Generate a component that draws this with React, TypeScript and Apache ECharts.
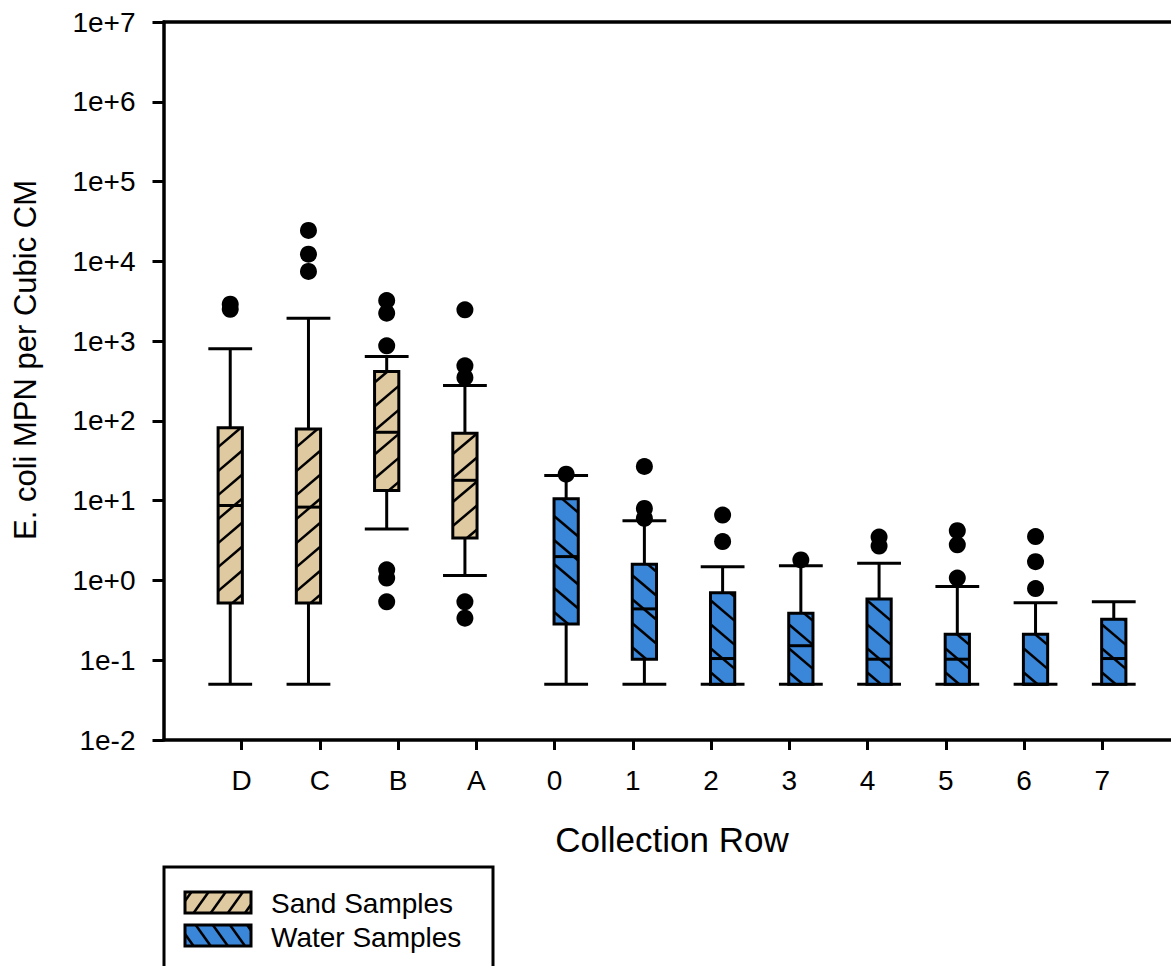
import React, { useEffect, useRef } from 'react';
import * as echarts from 'echarts';

// ---------- data ----------
const CATEGORIES = ['D', 'C', 'B', 'A', '0', '1', '2', '3', '4', '5', '6', '7'];

const SAND_ROWS = ['D', 'C', 'B', 'A'];
const SAND_MIN = [0.05, 0.05, 4.4, 1.15];
const SAND_Q1 = [0.52, 0.52, 13.4, 3.4];
const SAND_MEDIAN = [8.7, 8.3, 72, 18];
const SAND_Q3 = [82, 79, 416, 70];
const SAND_MAX = [800, 1940, 640, 277];
const SAND_OUTLIERS: [string, number][] = [
  ['D', 2500], ['D', 2900],
  ['C', 24400], ['C', 12300], ['C', 7460],
  ['B', 3230], ['B', 2240], ['B', 873], ['B', 1.36], ['B', 1.07], ['B', 0.54],
  ['A', 2470], ['A', 490], ['A', 350], ['A', 0.54], ['A', 0.336],
];

const WATER_ROWS = ['0', '1', '2', '3', '4', '5', '6', '7'];
const WATER_MIN = [0.05, 0.05, 0.05, 0.05, 0.05, 0.05, 0.05, 0.05];
const WATER_Q1 = [0.285, 0.103, 0.05, 0.05, 0.05, 0.05, 0.05, 0.05];
const WATER_MEDIAN = [1.99, 0.44, 0.105, 0.152, 0.103, 0.103, 0.05, 0.105];
const WATER_Q3 = [10.6, 1.6, 0.7, 0.388, 0.586, 0.212, 0.212, 0.326];
const WATER_MAX = [20.7, 5.6, 1.48, 1.53, 1.64, 0.84, 0.527, 0.54];
const WATER_OUTLIERS: [string, number][] = [
  ['0', 21.5],
  ['1', 26.8], ['1', 8.0], ['1', 6.0],
  ['2', 6.6], ['2', 3.07],
  ['3', 1.81],
  ['4', 3.5], ['4', 2.7],
  ['5', 4.2], ['5', 2.8], ['5', 1.07],
  ['6', 3.55], ['6', 1.72], ['6', 0.79],
];

const Y_MIN = 0.01;
const Y_MAX = 1e7;
const X_MAX = 13;

// ---------- style ----------
const FONT = "'Liberation Sans', Arial, Helvetica, sans-serif";
const SAND_COLOR = '#dfc9a0';
const WATER_COLOR = '#3a86d8';
const GROUP_OFFSET = 0.147; // fraction of category band
const BOX_W = 0.31;
const CAP_W = 0.56;
const HATCH_SLOPE = 0.85;
const HATCH_SPACING = 24;
const LW = 3;
const CANVAS_W = 1200; // wider than the 1171px window: the plot's right end is cropped, as in the source

const catIndex = (c: string) => CATEGORIES.indexOf(c) + 1;

function hatchSegments(x0: number, y0: number, w: number, h: number, slope: number, spacing: number, dir: number) {
  const x1 = x0 + w;
  const y1 = y0 + h;
  const segs: number[][] = [];
  const kAt = (x: number, y: number) => y + dir * slope * x;
  const ks = [kAt(x0, y0), kAt(x1, y0), kAt(x0, y1), kAt(x1, y1)];
  const kmin = Math.min(...ks);
  const kmax = Math.max(...ks);
  const base = kAt(x0, y1) - spacing * 0.5;
  const jStart = Math.floor((kmin - base) / spacing);
  const jEnd = Math.ceil((kmax - base) / spacing);
  for (let j = jStart; j <= jEnd; j++) {
    const k = base + j * spacing;
    const xa0 = (k - y0) / (dir * slope);
    const xa1 = (k - y1) / (dir * slope);
    const xa = Math.max(x0, Math.min(xa0, xa1));
    const xb = Math.min(x1, Math.max(xa0, xa1));
    if (xb - xa < 0.8) continue;
    segs.push([xa, k - dir * slope * xa, xb, k - dir * slope * xb]);
  }
  return segs;
}

function makeBoxRenderer(offsetSign: number, fill: string, dir: number) {
  return (params: any, api: any) => {
    const xi = api.value(0);
    const low = api.value(1);
    const q1 = api.value(2);
    const med = api.value(3);
    const q3 = api.value(4);
    const high = api.value(5);
    const p0 = api.coord([xi, 1]);
    const band = api.coord([xi + 1, 1])[0] - p0[0];
    const cx = p0[0] + offsetSign * GROUP_OFFSET * band;
    const y = (v: number) => api.coord([xi, v])[1];
    const bw = BOX_W * band;
    const cw = CAP_W * band;
    const yLow = y(low), yQ1 = y(q1), yMed = y(med), yQ3 = y(q3), yHigh = y(high);
    const line = { stroke: '#000', lineWidth: LW };
    const children: any[] = [
      { type: 'line', shape: { x1: cx, y1: yQ3, x2: cx, y2: yHigh }, style: line },
      { type: 'line', shape: { x1: cx, y1: yQ1, x2: cx, y2: yLow }, style: line },
      { type: 'line', shape: { x1: cx - cw / 2, y1: yHigh, x2: cx + cw / 2, y2: yHigh }, style: line },
      { type: 'line', shape: { x1: cx - cw / 2, y1: yLow, x2: cx + cw / 2, y2: yLow }, style: line },
      { type: 'rect', shape: { x: cx - bw / 2, y: yQ3, width: bw, height: yQ1 - yQ3 }, style: { fill, stroke: 'none' } },
    ];
    hatchSegments(cx - bw / 2, yQ3, bw, yQ1 - yQ3, HATCH_SLOPE, HATCH_SPACING, dir).forEach((s) => {
      children.push({ type: 'line', shape: { x1: s[0], y1: s[1], x2: s[2], y2: s[3] }, style: { stroke: '#000', lineWidth: 2.5 } });
    });
    children.push({ type: 'line', shape: { x1: cx - bw / 2, y1: yMed, x2: cx + bw / 2, y2: yMed }, style: line });
    children.push({ type: 'rect', shape: { x: cx - bw / 2, y: yQ3, width: bw, height: yQ1 - yQ3 }, style: { fill: 'none', stroke: '#000', lineWidth: LW } });
    return { type: 'group', children };
  };
}

function makeOutlierRenderer(offsetSign: number) {
  return (params: any, api: any) => {
    const xi = api.value(0);
    const v = api.value(1);
    const p = api.coord([xi, v]);
    const band = api.coord([xi + 1, v])[0] - p[0];
    return {
      type: 'circle',
      shape: { cx: p[0] + offsetSign * GROUP_OFFSET * band, cy: p[1], r: 8.5 },
      style: { fill: '#000' },
    };
  };
}

function legendSwatch(x: number, y: number, w: number, h: number, fill: string, dir: number) {
  const els: any[] = [
    { type: 'rect', shape: { x, y, width: w, height: h }, style: { fill, stroke: 'none' } },
  ];
  hatchSegments(x, y, w, h, 1.4, 24, dir).forEach((s) => {
    els.push({ type: 'line', shape: { x1: s[0], y1: s[1], x2: s[2], y2: s[3] }, style: { stroke: '#000', lineWidth: 2.5 } });
  });
  els.push({ type: 'rect', shape: { x, y, width: w, height: h }, style: { fill: 'none', stroke: '#000', lineWidth: LW } });
  return els;
}

export default function App() {
  const ref = useRef<HTMLDivElement>(null);
  useEffect(() => {
    if (!ref.current) return;
    document.documentElement.style.overflow = 'hidden';
    document.body.style.overflow = 'hidden';
    const chart = echarts.init(ref.current, null, { renderer: 'svg' });

    const sandData = SAND_ROWS.map((r, i) => [catIndex(r), SAND_MIN[i], SAND_Q1[i], SAND_MEDIAN[i], SAND_Q3[i], SAND_MAX[i]]);
    const waterData = WATER_ROWS.map((r, i) => [catIndex(r), WATER_MIN[i], WATER_Q1[i], WATER_MEDIAN[i], WATER_Q3[i], WATER_MAX[i]]);
    const sandOut = SAND_OUTLIERS.map(([r, v]) => [catIndex(r), v]);
    const waterOut = WATER_OUTLIERS.map(([r, v]) => [catIndex(r), v]);
    const tickVals = CATEGORIES.map((_, i) => i + 1);

    const option: any = {
      animation: false,
      backgroundColor: '#fff',
      grid: {
        left: 163.5, top: 22, height: 718, width: 1017,
        containLabel: false, outerBoundsMode: 'none',
        show: false,
      },
      xAxis: [
        {
          type: 'value', min: 0, max: X_MAX, interval: 1,
          axisLine: { show: true, lineStyle: { color: '#000', width: 3.5 } },
          axisTick: { show: true, inside: false, length: 10, lineStyle: { color: '#000', width: 3 }, customValues: tickVals },
          axisLabel: {
            color: '#000', fontSize: 28, fontFamily: FONT, margin: 26,
            customValues: tickVals,
            formatter: (v: number) => CATEGORIES[Math.round(v) - 1] ?? '',
          },
          splitLine: { show: false },
          name: 'Collection Row', nameLocation: 'middle', nameGap: 82,
          nameTextStyle: { color: '#000', fontSize: 35, fontFamily: FONT },
        },
        {
          type: 'value', position: 'top', min: 0, max: X_MAX, interval: 1,
          axisLine: { show: true, lineStyle: { color: '#000', width: 3.5 } },
          axisTick: { show: false },
          axisLabel: { show: false },
          splitLine: { show: false },
        },
      ],
      yAxis: {
        type: 'log', logBase: 10, min: Y_MIN, max: Y_MAX, splitNumber: 9,
        axisLine: { show: true, lineStyle: { color: '#000', width: 3.5 } },
        axisTick: { show: true, inside: false, length: 11, lineStyle: { color: '#000', width: 3 } },
        axisLabel: {
          color: '#000', fontSize: 28, fontFamily: FONT, margin: 28,
          formatter: (v: number) => {
            const e = Math.round(Math.log10(v));
            return '1e' + (e >= 0 ? '+' : '') + e;
          },
        },
        splitLine: { show: false },
      },
      graphic: [
        // blank strip at the cropped right edge of the plot (no right frame there in the source)
        { type: 'rect', z: 100, shape: { x: 1150, y: 25, width: 60, height: 712 }, style: { fill: '#fff', stroke: 'none' } },
        {
          type: 'text', x: 25, y: 360, rotation: Math.PI / 2,
          style: { text: 'E. coli MPN per Cubic CM', fontSize: 31, fontFamily: FONT, fill: '#000', align: 'center', verticalAlign: 'middle' },
        },
        { type: 'rect', shape: { x: 164, y: 867, width: 329, height: 130 }, style: { fill: '#fff', stroke: '#000', lineWidth: 3 } },
        ...legendSwatch(185, 892, 66, 21, SAND_COLOR, 1),
        ...legendSwatch(185, 925, 66, 21, WATER_COLOR, -1),
        { type: 'text', x: 271, y: 903, style: { text: 'Sand Samples', fontSize: 28, fontFamily: FONT, fill: '#000', align: 'left', verticalAlign: 'middle' } },
        { type: 'text', x: 271, y: 937, style: { text: 'Water Samples', fontSize: 28, fontFamily: FONT, fill: '#000', align: 'left', verticalAlign: 'middle' } },
      ],
      series: [
        { name: 'Sand Samples', type: 'custom', data: sandData, encode: { x: 0, y: [1, 2, 3, 4, 5] }, renderItem: makeBoxRenderer(-1, SAND_COLOR, 1), clip: false },
        { name: 'Water Samples', type: 'custom', data: waterData, encode: { x: 0, y: [1, 2, 3, 4, 5] }, renderItem: makeBoxRenderer(1, WATER_COLOR, -1), clip: false },
        { name: 'Sand outliers', type: 'custom', data: sandOut, encode: { x: 0, y: 1 }, renderItem: makeOutlierRenderer(-1), clip: false },
        { name: 'Water outliers', type: 'custom', data: waterOut, encode: { x: 0, y: 1 }, renderItem: makeOutlierRenderer(1), clip: false },
      ],
    };
    chart.setOption(option);
    return () => chart.dispose();
  }, []);
  return <div ref={ref} style={{ position: 'absolute', left: 0, top: 0, width: CANVAS_W, height: 966 }} />;
}
